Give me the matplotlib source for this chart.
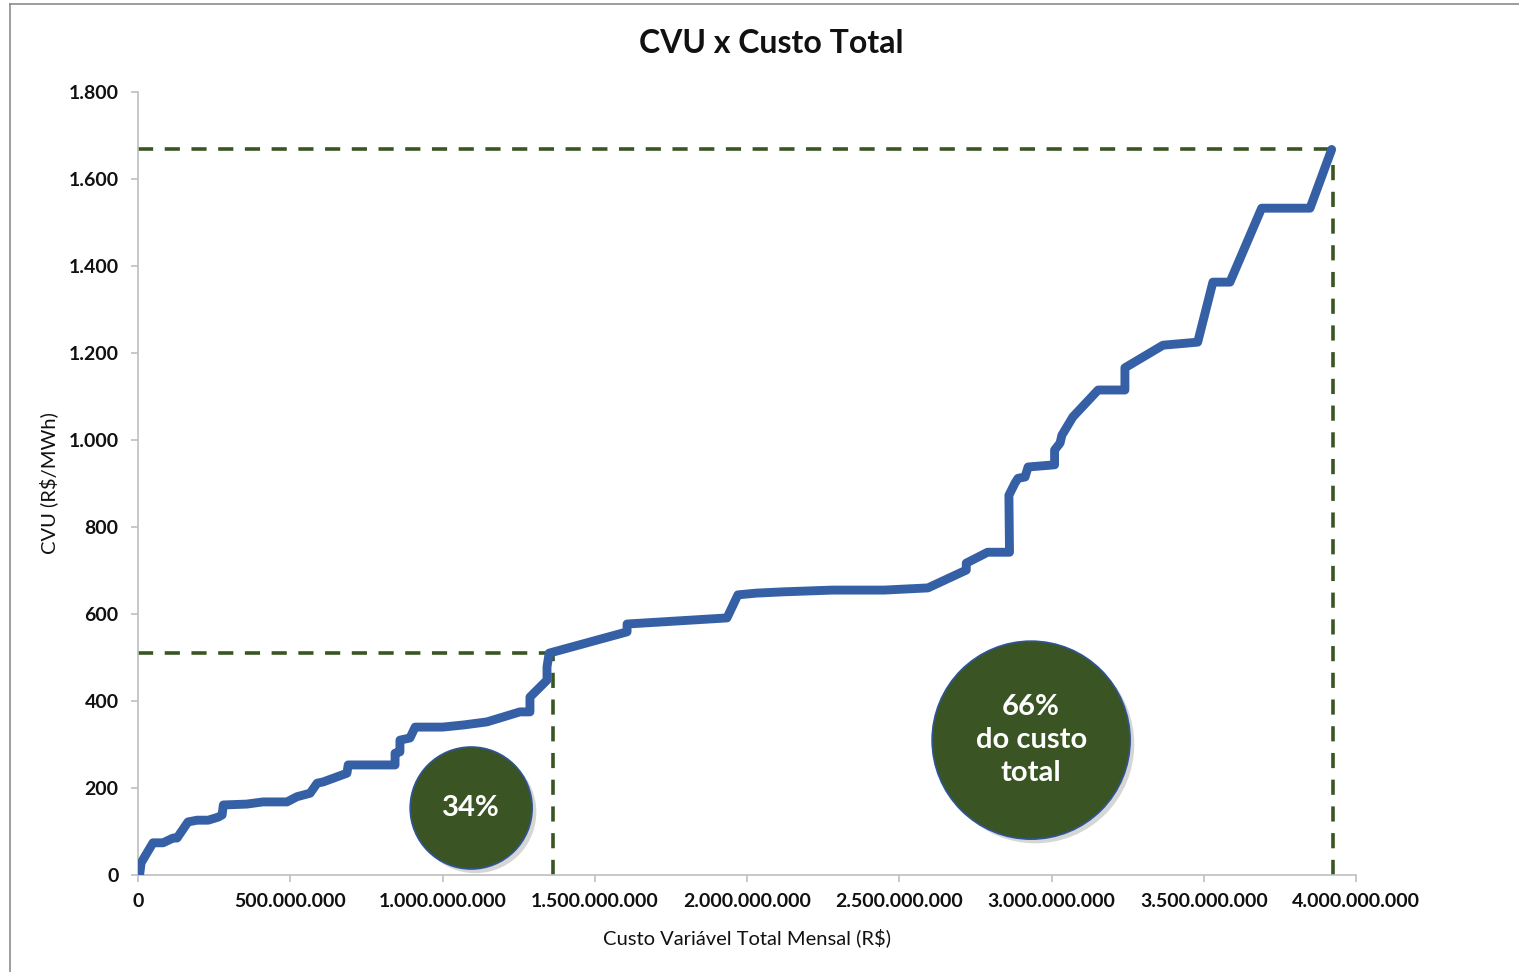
import numpy as np
import matplotlib
matplotlib.use("Agg")
import matplotlib.pyplot as plt
import matplotlib.patheffects as pe
from matplotlib.lines import Line2D
from matplotlib.ticker import FuncFormatter, MultipleLocator

plt.rcParams['font.family'] = ['Lato', 'DejaVu Sans']

# -------------------------------------------------------------------------
# Data (custo acumulado em milhões de R$, CVU em R$/MWh)
# -------------------------------------------------------------------------
custo_mi = [5, 10, 49, 82, 115, 128, 164, 194, 230, 263, 276, 280, 357, 410, 489,
            522, 565, 588, 608, 686, 690, 844, 844, 860, 860, 893, 910, 1000, 1070,
            1146, 1254, 1287, 1287, 1343, 1343, 1350, 1606, 1606, 1934, 1970, 2030,
            2120, 2280, 2450, 2594, 2720, 2720, 2790, 2862, 2860, 2880, 2890, 2913,
            2923, 3010, 3010, 3028, 3034, 3070, 3153, 3241, 3241, 3366, 3480, 3530,
            3586, 3690, 3849, 3920]
cvu = [0, 28, 74, 74, 85, 85, 122, 126, 126, 133, 138, 161, 163, 168, 168,
       180, 188, 211, 214, 234, 253, 253, 280, 283, 310, 315, 340, 340, 345,
       352, 375, 375, 409, 448, 478, 510, 559, 577, 591, 644, 648,
       651, 655, 655, 660, 701, 717, 742, 742, 873, 901, 912, 915,
       938, 943, 977, 993, 1011, 1053, 1115, 1115, 1166, 1218, 1225, 1363,
       1363, 1533, 1533, 1668]

# corte dos 34% e ponto final
corte_custo_mi = 1363
corte_cvu = 510
fim_custo_mi = 3925
fim_cvu = 1668

# bolhas de texto
bolha_x_mi = [1094, 2933]
bolha_y = [154, 310]
bolha_txt = ["34%", "66%\ndo custo\ntotal"]
bolha_diam_px = [122, 198]

x = np.array(custo_mi) * 1e6

# -------------------------------------------------------------------------
# Chart
# -------------------------------------------------------------------------
fig = plt.figure(figsize=(15.19, 9.72), dpi=100)
ax = fig.add_axes([0.0909, 0.0998, 0.8018, 0.8055])

verde = '#3A5523'
azul = '#3660A5'
cinza = '#BFBFBF'

# linhas tracejadas
dash = dict(color=verde, lw=2.6, dashes=(4.2, 3.2), zorder=2)
ax.plot([0, corte_custo_mi * 1e6], [corte_cvu, corte_cvu], **dash)
ax.plot([corte_custo_mi * 1e6, corte_custo_mi * 1e6], [0, corte_cvu], **dash)
ax.plot([0, fim_custo_mi * 1e6], [fim_cvu, fim_cvu], **dash)
ax.plot([fim_custo_mi * 1e6, fim_custo_mi * 1e6], [0, fim_cvu], **dash)

# curva principal
ax.plot(x, cvu, color=azul, lw=6.4, solid_joinstyle='round',
        solid_capstyle='round', zorder=3)

# bolhas
sizes = [(d * 0.72) ** 2 for d in bolha_diam_px]
ax.scatter(np.array(bolha_x_mi) * 1e6, bolha_y, s=sizes, color=verde,
           edgecolors='#2F5597', linewidths=1.2, zorder=4, clip_on=False,
           path_effects=[pe.SimplePatchShadow(offset=(3, -3), shadow_rgbFace='#9A9A9A', alpha=0.4),
                         pe.Normal()])
for bx, by, t in zip(bolha_x_mi, bolha_y, bolha_txt):
    ax.text(bx * 1e6, by, t, color='white', fontsize=21, fontweight='bold',
            ha='center', va='center', linespacing=1.32, zorder=5)

# eixos
ax.set_xlim(0, 4e9)
ax.set_ylim(0, 1800)
ax.xaxis.set_major_locator(MultipleLocator(5e8))
ax.yaxis.set_major_locator(MultipleLocator(200))
fmt = FuncFormatter(lambda v, p: f"{v:,.0f}".replace(",", "."))
ax.xaxis.set_major_formatter(fmt)
ax.yaxis.set_major_formatter(fmt)

for s in ['top', 'right']:
    ax.spines[s].set_visible(False)
for s in ['left', 'bottom']:
    ax.spines[s].set_color(cinza)
    ax.spines[s].set_linewidth(1.2)
ax.tick_params(axis='both', direction='out', length=5, width=1.2, color=cinza,
               labelsize=14, labelcolor='#111111')
ax.tick_params(axis='x', pad=8)
ax.tick_params(axis='y', pad=9)
for lb in ax.get_xticklabels() + ax.get_yticklabels():
    lb.set_fontweight('bold')

ax.set_xlabel("Custo Variável Total Mensal (R$)", fontsize=14.5, color='#111111')
ax.xaxis.set_label_coords(0.5, -0.068)
ax.xaxis.label.set_va('top')
ax.set_ylabel("CVU (R$/MWh)", fontsize=14.5, color='#111111')
ax.yaxis.set_label_coords(-0.066, 0.5)

fig.text(0.5075, 0.955, "CVU x Custo Total", fontsize=23, fontweight='bold',
         ha='center', va='center', color='#111111')

# moldura da figura
fig.add_artist(Line2D([10 / 1519, 1], [1 - 4 / 972, 1 - 4 / 972], color='#8C8C8C', lw=1.2))
fig.add_artist(Line2D([10 / 1519, 10 / 1519], [0, 1 - 4 / 972], color='#8C8C8C', lw=1.2))

fig.savefig("out.png", dpi=100)
